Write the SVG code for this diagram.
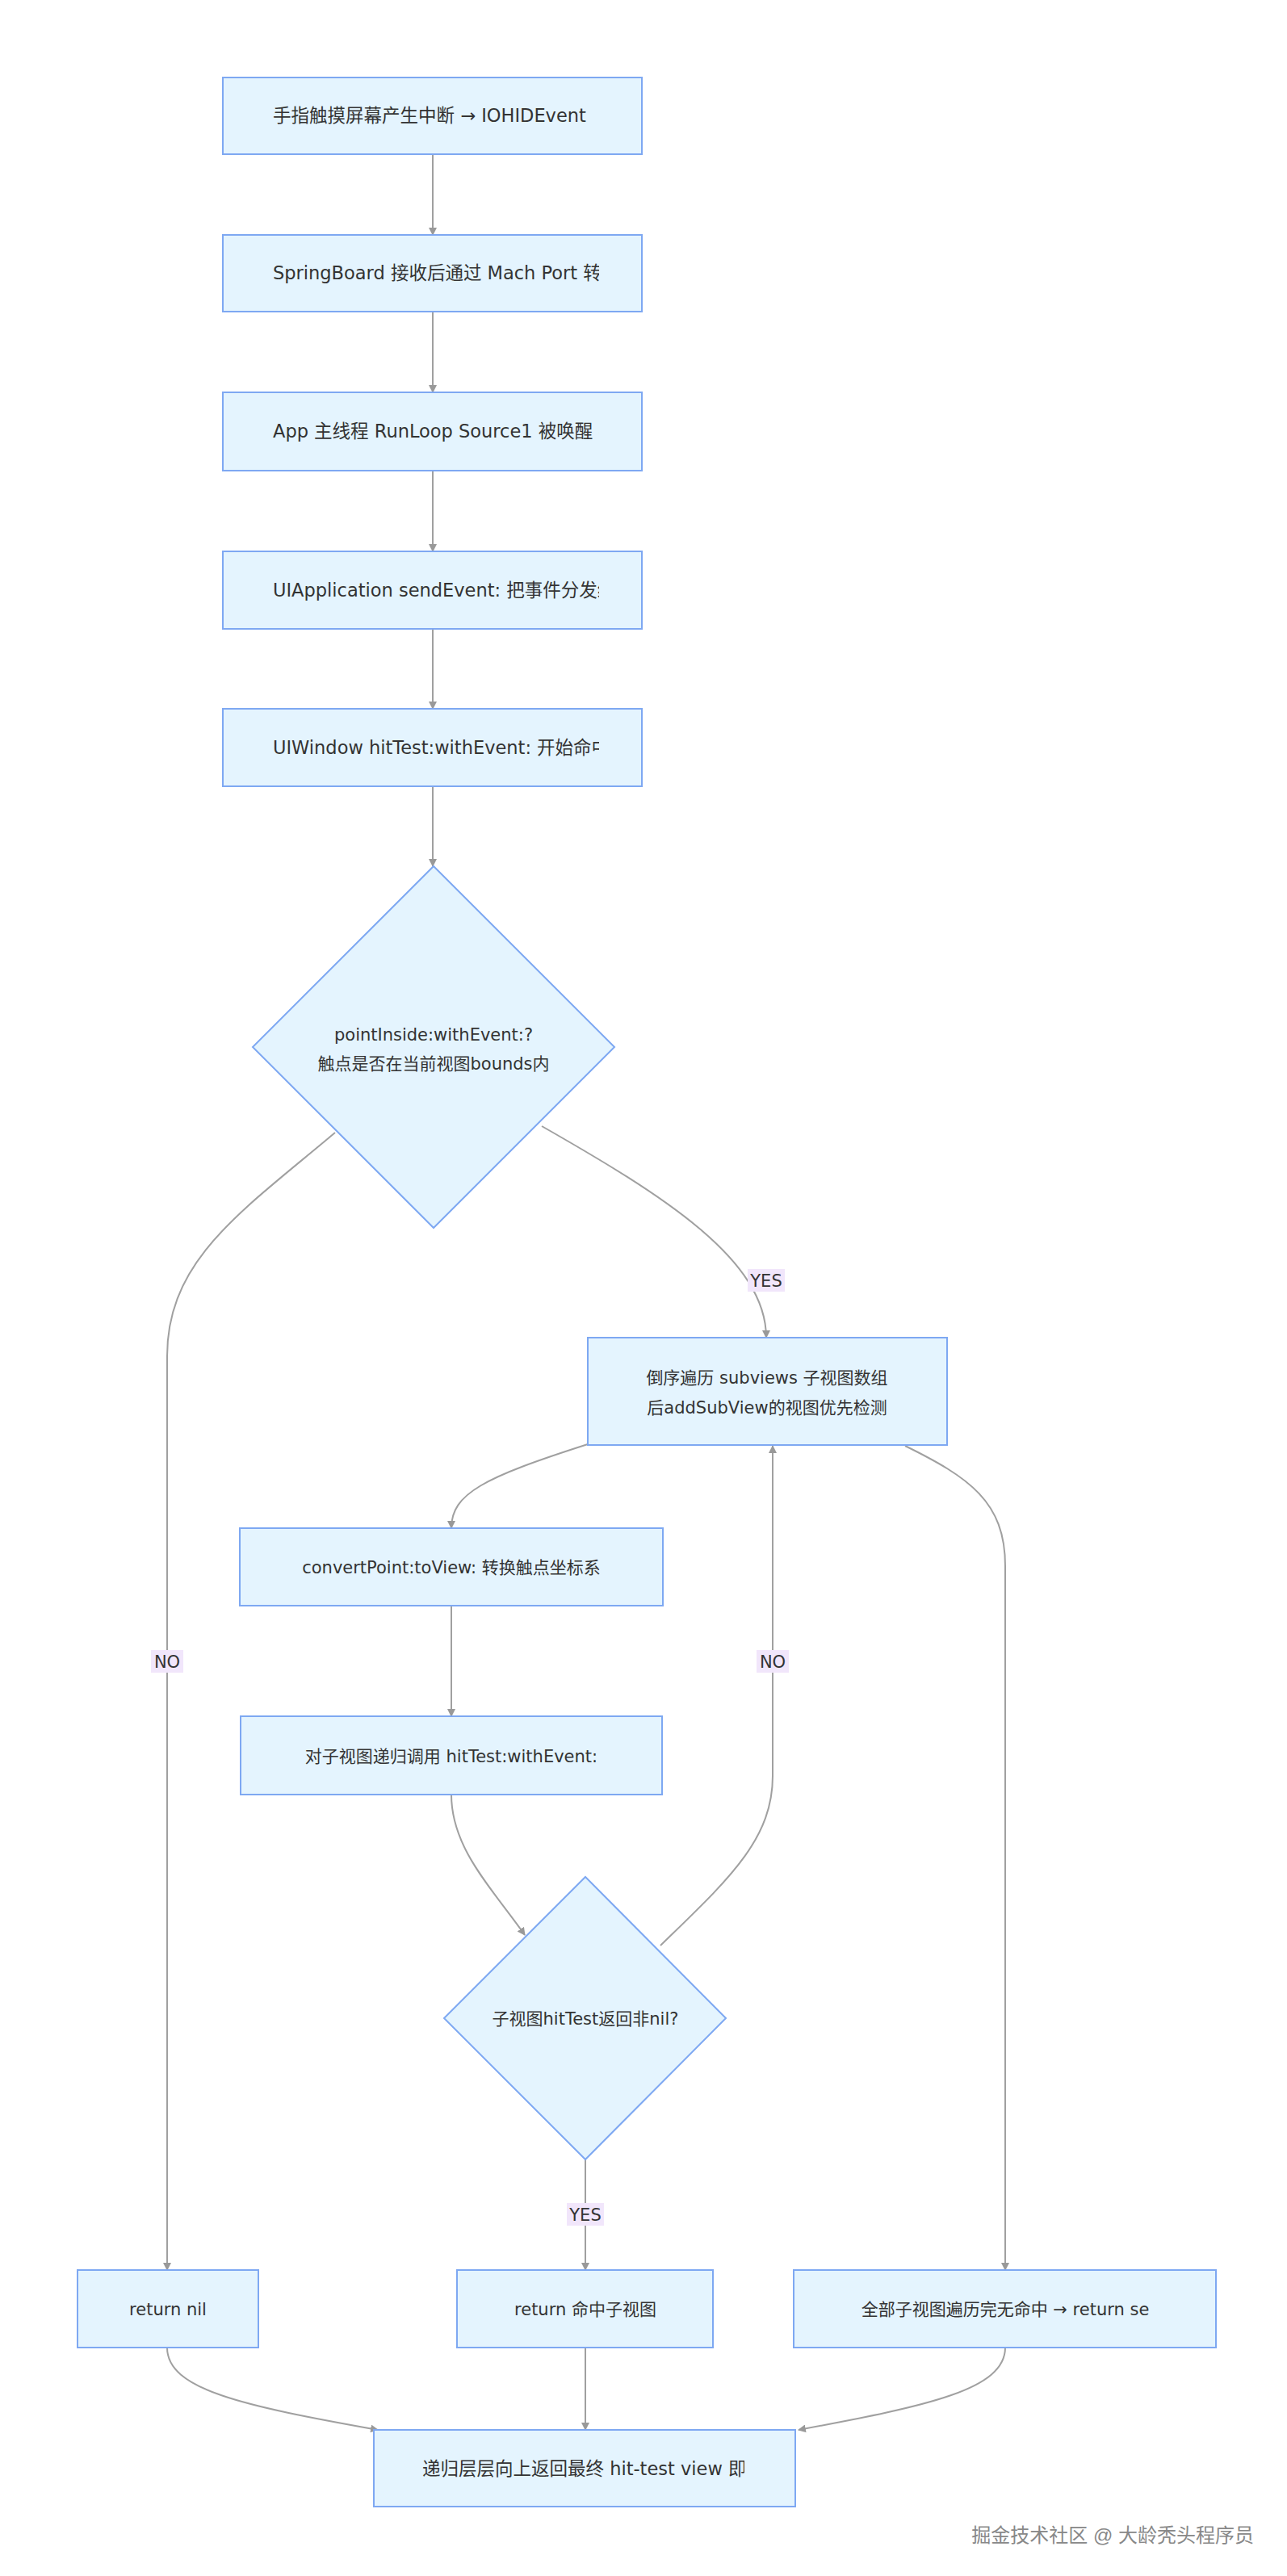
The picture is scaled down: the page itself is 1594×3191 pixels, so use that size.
<svg xmlns="http://www.w3.org/2000/svg" width="1594" height="3191" viewBox="0 0 1594 3191">
<style>
.n{fill:#e4f4fe;stroke:#7ea8f2;stroke-width:2}
.t{font-family:"DejaVu Sans","Noto Sans CJK SC",sans-serif;font-size:22.5px;fill:#333}
.e{fill:none;stroke:#a0a0a0;stroke-width:2;marker-end:url(#a)}
.lb{fill:#f1e6fb}
.lt{font-family:"DejaVu Sans","Noto Sans CJK SC",sans-serif;font-size:21px;fill:#333;text-anchor:middle}
</style>
<defs>
<marker id="a" viewBox="0 0 10 10" refX="9" refY="5" markerWidth="10" markerHeight="10" markerUnits="userSpaceOnUse" orient="auto"><path d="M0,0L10,5L0,10z" fill="#999"/></marker>
<clipPath id="c"><rect x="300" y="0" width="442" height="3191"/></clipPath>
<clipPath id="c2"><rect x="480" y="0" width="442" height="3191"/></clipPath>
</defs>
<rect width="1594" height="3191" fill="#fff"/>
<g id="edges">
<path class="e" d="M536,191V291"/>
<path class="e" d="M536,386V486"/>
<path class="e" d="M536,583V683"/>
<path class="e" d="M536,779V878"/>
<path class="e" d="M536,974V1073"/>
<path class="e" d="M415,1403C300,1500 207,1560 207,1680V2812"/>
<path class="e" d="M671,1395C820,1480 949,1560 949,1657"/>
<path class="e" d="M728,1789C600,1830 559,1850 559,1893"/>
<path class="e" d="M1121,1791C1200,1830 1245,1860 1245,1940V2812"/>
<path class="e" d="M559,1989V2126"/>
<path class="e" d="M559,2223C559,2290 610,2340 650,2397"/>
<path class="e" d="M818,2410C900,2330 957,2280 957,2200V1791"/>
<path class="e" d="M725,2675V2812"/>
<path class="e" d="M207,2908C207,2960 300,2980 468,3010"/>
<path class="e" d="M725,2908V3010"/>
<path class="e" d="M1245,2908C1245,2960 1150,2980 989,3010"/>
<rect class="lb" x="926" y="1572" width="46" height="28"/><text class="lt" x="949" y="1594">YES</text>
<rect class="lb" x="187" y="2044" width="40" height="28"/><text class="lt" x="207" y="2066">NO</text>
<rect class="lb" x="937" y="2044" width="40" height="28"/><text class="lt" x="957" y="2066">NO</text>
<rect class="lb" x="702" y="2729" width="46" height="28"/><text class="lt" x="725" y="2751">YES</text>
</g>
<g id="n1"><rect class="n" x="276" y="96" width="519" height="95"/><text class="t" x="338" y="151" clip-path="url(#c)">手指触摸屏幕产生中断 → IOHIDEvent</text></g>
<g id="n2"><rect class="n" x="276" y="291" width="519" height="95"/><text class="t" x="338" y="346" clip-path="url(#c)">SpringBoard 接收后通过 Mach Port 转</text></g>
<g id="n3"><rect class="n" x="276" y="486" width="519" height="97"/><text class="t" x="338" y="542" clip-path="url(#c)">App 主线程 RunLoop Source1 被唤醒 -</text></g>
<g id="n4"><rect class="n" x="276" y="683" width="519" height="96"/><text class="t" x="338" y="739" clip-path="url(#c)">UIApplication sendEvent: 把事件分发给</text></g>
<g id="n5"><rect class="n" x="276" y="878" width="519" height="96"/><text class="t" x="338" y="934" clip-path="url(#c)">UIWindow hitTest:withEvent: 开始命中</text></g>
<g id="d1"><path class="n" d="M537,1073L761,1297L537,1521L313,1297Z"/><text class="lt" x="537" y="1289">pointInside:withEvent:?</text><text class="lt" x="537" y="1325">触点是否在当前视图bounds内</text></g>
<g id="n6"><rect class="n" x="728" y="1657" width="445" height="133"/><text class="lt" x="950" y="1714">倒序遍历 subviews 子视图数组</text><text class="lt" x="950" y="1751">后addSubView的视图优先检测</text></g>
<g id="n7"><rect class="n" x="297" y="1893" width="524" height="96"/><text class="lt" x="559" y="1949">convertPoint:toView: 转换触点坐标系</text></g>
<g id="n8"><rect class="n" x="298" y="2126" width="522" height="97"/><text class="lt" x="559" y="2183">对子视图递归调用 hitTest:withEvent:</text></g>
<g id="d2"><path class="n" d="M725,2325L899,2500L725,2675L550,2500Z"/><text class="lt" x="725" y="2508">子视图hitTest返回非nil?</text></g>
<g id="n9"><rect class="n" x="96" y="2812" width="224" height="96"/><text class="lt" x="208" y="2868">return nil</text></g>
<g id="n10"><rect class="n" x="566" y="2812" width="317" height="96"/><text class="lt" x="725" y="2868">return 命中子视图</text></g>
<g id="n11"><rect class="n" x="983" y="2812" width="523" height="96"/><text class="lt" x="1245" y="2868">全部子视图遍历完无命中 → return se</text></g>
<g id="n12"><rect class="n" x="463" y="3010" width="522" height="95"/><text class="t" x="523" y="3066" clip-path="url(#c2)">递归层层向上返回最终 hit-test view 即</text></g>
<text x="1553" y="3149" text-anchor="end" font-family="Liberation Sans,Noto Sans CJK SC,sans-serif" font-size="24" fill="#888">掘金技术社区 @ 大龄秃头程序员</text>
</svg>
